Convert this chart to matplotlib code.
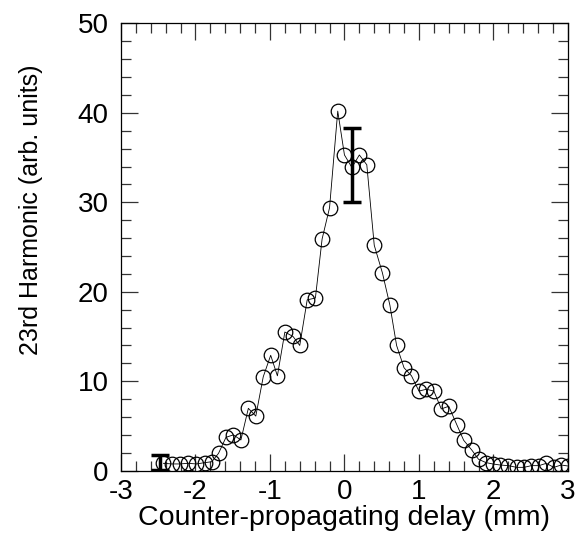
import matplotlib
matplotlib.use("Agg")
import matplotlib.pyplot as plt
from matplotlib.ticker import MultipleLocator

plt.rcParams['font.family'] = ['Liberation Sans', 'DejaVu Sans']
plt.rcParams['axes.unicode_minus'] = False

# delay (mm) and 23rd harmonic signal (arb. units)
delay = [-2.43, -2.32, -2.21, -2.10, -1.99, -1.87, -1.78, -1.69, -1.59, -1.49,
         -1.39, -1.29, -1.19, -1.09, -0.99, -0.90, -0.80, -0.69, -0.60, -0.50,
         -0.39, -0.30, -0.20, -0.09, 0.00, 0.10, 0.20, 0.30, 0.40, 0.51,
         0.61, 0.70, 0.80, 0.90, 1.00, 1.10, 1.20, 1.30, 1.40, 1.51,
         1.60, 1.71, 1.80, 1.90, 1.99, 2.09, 2.20, 2.31, 2.41, 2.51,
         2.61, 2.71, 2.81, 2.91, 3.00]
signal = [0.82, 0.75, 0.75, 0.82, 0.75, 0.90, 1.00, 1.94, 3.73, 4.00,
          3.43, 6.97, 6.10, 10.5, 12.9, 10.6, 15.5, 15.0, 14.0, 19.1,
          19.3, 25.9, 29.4, 40.2, 35.3, 33.9, 35.3, 34.2, 25.2, 22.1,
          18.5, 14.0, 11.5, 10.6, 8.9, 9.1, 8.9, 6.9, 7.2, 5.1,
          3.4, 2.3, 1.27, 0.9, 0.75, 0.63, 0.56, 0.37, 0.37, 0.56,
          0.56, 0.82, 0.37, 0.63, 0.52]

# representative error bars
err_x = [-2.47, 0.10]
err_y = [0.9, 34.2]
err_size = [0.85, 4.15]

fig = plt.figure(figsize=(5.76, 5.46), dpi=100)
ax = fig.add_axes([0.210, 0.138, 0.776, 0.819])

ax.plot(delay, signal, color="black", linewidth=0.6, marker="o",
        markersize=10.5, markerfacecolor="none", markeredgecolor="black",
        markeredgewidth=0.9)
ax.errorbar(err_x, err_y, yerr=err_size, fmt="none", ecolor="black",
            elinewidth=2.5, capsize=6.5, capthick=2.5)

ax.set_xlim(-3, 3)
ax.set_ylim(0, 50)
ax.xaxis.set_major_locator(MultipleLocator(1))
ax.xaxis.set_minor_locator(MultipleLocator(0.2))
ax.yaxis.set_major_locator(MultipleLocator(10))
ax.yaxis.set_minor_locator(MultipleLocator(2))
ax.tick_params(which="both", direction="in", top=True, right=True,
               labelsize=20, width=0.9, color="#333333")
ax.tick_params(which="major", length=12)
ax.tick_params(axis="x", which="major", pad=6)
ax.tick_params(axis="y", which="major", pad=9)
ax.tick_params(which="minor", length=7)
for s in ax.spines.values():
    s.set_linewidth(0.9)

ax.set_xlabel("Counter-propagating delay (mm)", fontsize=20.5)
ax.xaxis.set_label_coords(0.5, -0.077)
ax.set_ylabel("23rd Harmonic (arb. units)", fontsize=18)
# the y label sits above the axes centre in the reference
ax.yaxis.set_label_coords(0.075, 0.615, transform=fig.transFigure)

fig.savefig("out.png", dpi=100)
